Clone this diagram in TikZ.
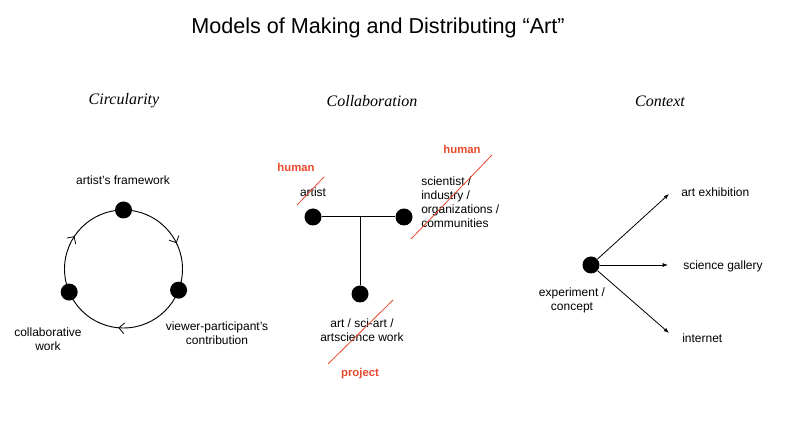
\documentclass[tikz,border=0pt]{standalone}
\usepackage{fontspec}
\setmainfont{Liberation Sans}
\newfontfamily\headfont{Liberation Serif}
\usetikzlibrary{positioning, calc, arrows.meta, decorations.markings}
\definecolor{strikered}{RGB}{232,72,44}
\tikzstyle{Dot} = [circle, fill=black, inner sep=0pt, minimum size=12.75pt]
\tikzstyle{Label} = [
    font=\fontsize{9}{10.5}\selectfont,
    align=center, inner sep=0pt
]
\tikzstyle{Human} = [
    text=strikered, inner sep=0pt,
    font=\fontsize{8.5}{10}\selectfont\bfseries
]
\tikzstyle{Strike} = [strikered, line width=0.6pt]
\tikzstyle{Arrow} = [line width=0.6pt, -{Latex[length=4pt, width=3pt]}]
\tikzstyle{Loop} = [
    line width=0.7pt,
    decoration={
        markings,
        mark=at position 0.178 with {\arrow{Straight Barb[length=4pt, width=8pt, line width=0.6pt]}},
        mark=at position 0.514 with {\arrow{Straight Barb[length=4pt, width=8pt, line width=0.6pt]}},
        mark=at position 0.844 with {\arrow{Straight Barb[length=4pt, width=8pt, line width=0.6pt]}}
    },
    postaction = {decorate}
]

\begin{document}
\begin{tikzpicture}[
x=0.75pt, y=-0.75pt,
heading/.style={font=\headfont\itshape\fontsize{12}{14}\selectfont}
]
\useasboundingbox (0,0) rectangle (785,441);

\node[font=\fontsize{16.2}{19}\selectfont] (title) at (378,28) {Models of Making and Distributing “Art”};

\node[heading] (h1) at (124,101) {Circularity};
\node[heading] (h2) at (372,101) {Collaboration};
\node[heading] (h3) at (660,101) {Context};

% circularity
\coordinate (c) at (123.5,269);
\draw[Loop] (c) ++(-90:59) arc[start angle=-90, end angle=270, radius=59];
\node[Dot] (1) at (123.5,210) {};
\node[Dot] (2) at ($(c)+(21:59)$) {};
\node[Dot] (3) at ($(c)+(157:59)$) {};
\node[Label] (1l) at (123,180) {artist's framework};
\node[Label] (2l) at (217,333) {viewer-participant's\\contribution};
\node[Label] (3l) at (48,339) {collaborative\\work};

% collaboration
\node[Dot] (4) at (313,217) {};
\node[Dot] (5) at (404,217) {};
\node[Dot] (6) at (360,294) {};
\coordinate (j) at (360,217);
\draw[line width=0.75pt] (4) -- (5);
\draw[line width=0.75pt] (j) -- (6);

\node[Label] (4l) at (313,192) {artist};
\node[Label, align=left, anchor=west] (5l) at (421,202) {scientist /\\industry /\\organizations /\\communities};
\node[Label] (6l) at (362,330) {art / sci-art /\\artscience work};

\node[Human] (4h) at (296,167) {human};
\node[Human] (5h) at (462,149) {human};
\node[Human] (6h) at (360,374) {project};
\draw[Strike] (297,205) -- (324,177);
\draw[Strike] (411,239) -- (492,155);
\draw[Strike] (328,364) -- (393,300);

% context
\node[Dot] (7) at (591,265) {};
\coordinate (7a) at (669,194);
\coordinate (7b) at (668,265);
\coordinate (7c) at (669,333);
\draw[Arrow] (7) -- (7a);
\draw[Arrow] (7) -- (7b);
\draw[Arrow] (7) -- (7c);
\node[Label, anchor=west] (7al) at (681,192) {art exhibition};
\node[Label, anchor=west] (7bl) at (683,266) {science gallery};
\node[Label, anchor=west] (7cl) at (682,338) {internet};
\node[Label] (7l) at (572,300) {experiment /\\concept};

\end{tikzpicture}
\end{document}
